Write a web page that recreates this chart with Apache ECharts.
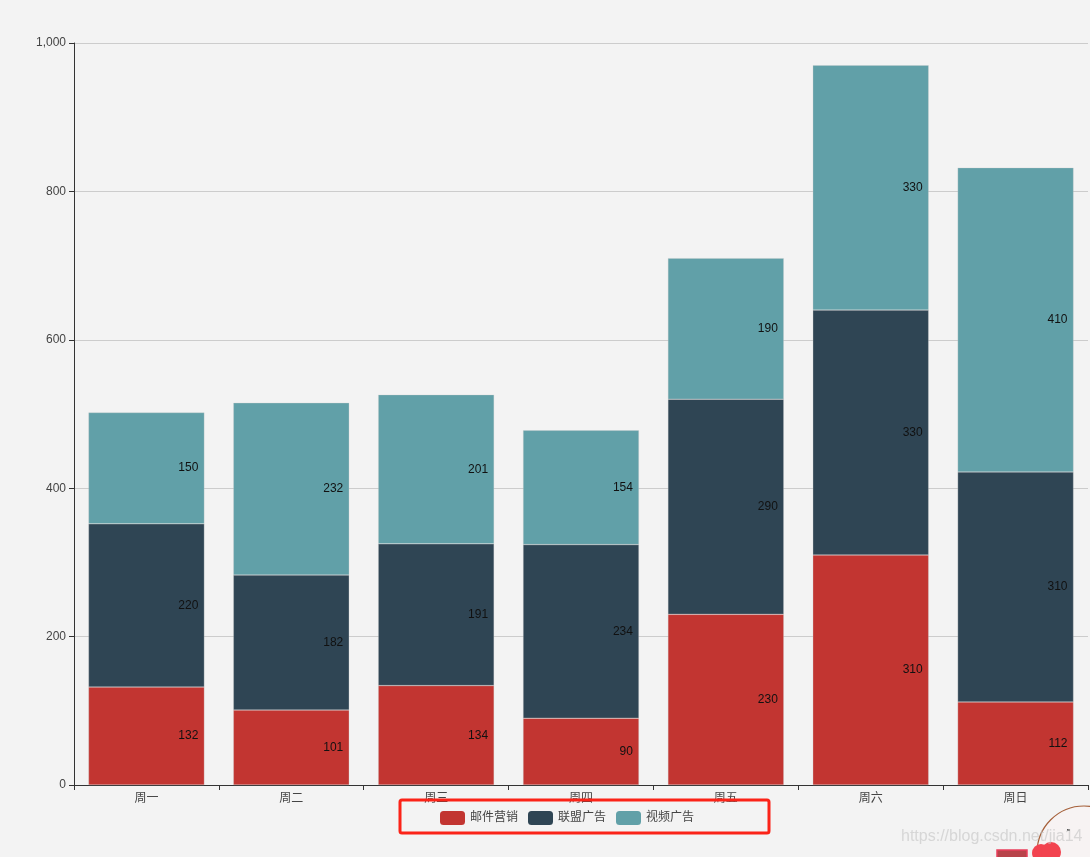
<!DOCTYPE html>
<html><head><meta charset="utf-8">
<style>html,body{margin:0;padding:0;background:#f3f3f3}#c{width:1090px;height:857px}</style>
<script src="https://cdn.jsdelivr.net/npm/echarts@6/dist/echarts.min.js"></script>
</head><body><div id="c"></div>
<script>
const categories = ['周一','周二','周三','周四','周五','周六','周日'];
const mail = [132,101,134,90,230,310,112];
const union = [220,182,191,234,290,330,310];
const video = [150,232,201,154,190,330,410];
const names = ['邮件营销','联盟广告','视频广告'];
const colors = ['#c23531','#2f4554','#61a0a8'];
const font = "'Liberation Sans','Noto Sans CJK SC',sans-serif";
const mk = (name, data, color) => ({
  name, type:'bar', stack:'total', barWidth:'80%', data,
  itemStyle:{color, borderColor:'rgba(204,204,204,0.6)', borderWidth:0.5},
  label:{show:true, position:'insideRight', color:'#111', fontSize:12, fontFamily:font, distance:6},
  emphasis:{disabled:true}
});
const chart = echarts.init(document.getElementById('c'), null, {renderer:'canvas'});
chart.setOption({
  animation:false,
  backgroundColor:'#f3f3f3',
  color:colors,
  textStyle:{fontFamily:font},
  grid:{left:74, right:2, top:43, bottom:72, containLabel:false},
  legend:{
    data:names, left:435, top:806, itemWidth:25, itemHeight:14, itemGap:10,
    itemStyle:{borderWidth:0},
    textStyle:{color:'#444', fontSize:12, fontFamily:font}
  },
  xAxis:{type:'category', data:categories,
    axisTick:{show:true, alignWithLabel:false, lineStyle:{color:'#333'}},
    axisLine:{lineStyle:{color:'#333'}},
    axisLabel:{color:'#444', fontSize:12, fontFamily:font, margin:8}},
  yAxis:{type:'value', min:0, max:1000, interval:200,
    axisLine:{show:true, lineStyle:{color:'#333'}},
    axisTick:{show:true, lineStyle:{color:'#333'}},
    axisLabel:{color:'#444', fontSize:12, fontFamily:font, margin:8,
      formatter:v=>v.toLocaleString('en-US')},
    splitLine:{show:true, lineStyle:{color:'#ccc'}}},
  series:[mk(names[0],mail,colors[0]), mk(names[1],union,colors[1]), mk(names[2],video,colors[2])],
  graphic:[
    {type:'rect', silent:true, z:100, shape:{x:400,y:800,width:369,height:33,r:2},
     style:{fill:'none', stroke:'#fb2318', lineWidth:3}},
    {type:'circle', silent:true, z:100, shape:{cx:1084,cy:853,r:47},
     style:{fill:'#f7f3f3', stroke:'#a5603a', lineWidth:1.2}},
    {type:'rect', silent:true, z:101, shape:{x:997,y:850,width:30,height:10},
     style:{fill:'#b8434a', stroke:'#ea3f5c', lineWidth:1.5}},
    {type:'circle', silent:true, z:101, shape:{cx:1041,cy:853,r:9}, style:{fill:'#f2434f'}},
    {type:'circle', silent:true, z:101, shape:{cx:1051,cy:852,r:10}, style:{fill:'#f2434f'}},
    {type:'rect', silent:true, z:101, shape:{x:1067,y:829,width:3,height:2}, style:{fill:'#555'}},
    {type:'text', silent:true, z:102, x:901, y:829,
     style:{text:'https://blog.csdn.net/jia14', fill:'rgba(195,195,195,0.6)', font:"16px 'Liberation Sans'"}}
  ]
});
</script></body></html>
